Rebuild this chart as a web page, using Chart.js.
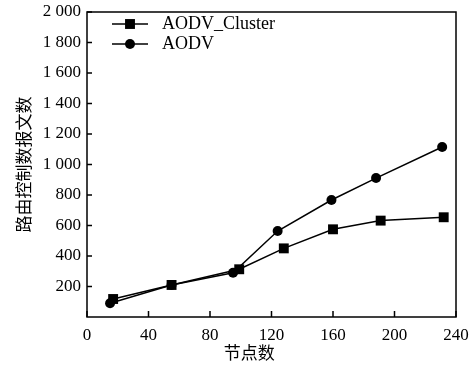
<!DOCTYPE html>
<html>
<head>
<meta charset="utf-8">
<script src="https://cdn.jsdelivr.net/npm/chart.js@4/dist/chart.umd.min.js"></script>
<style>
  html, body { margin: 0; padding: 0; background: #fff; }
</style>
</head>
<body>
<canvas id="chart" width="473" height="365"></canvas>
<script>
// data
const seriesNames = ["AODV_Cluster", "AODV"];
const clusterX = [17, 55, 99, 128, 160, 191, 232];
const clusterY = [118, 210, 313, 450, 575, 632, 654];
const aodvX = [15, 55, 95, 124, 159, 188, 231];
const aodvY = [90, 210, 290, 564, 767, 911, 1115];
const xTicks = [0, 40, 80, 120, 160, 200, 240];
const yTicks = [200, 400, 600, 800, 1000, 1200, 1400, 1600, 1800, 2000];
const xTitle = "节点数";
const yTitle = "路由控制数报文数";

const serif = "'Liberation Serif', 'DejaVu Serif', serif";
const cjk = "'Noto Sans CJK SC', sans-serif";

function toPoints(xs, ys) {
  return xs.map((x, i) => ({ x: x, y: ys[i] }));
}

function fmt(v) {
  if (v === 0) return "";
  const s = String(v);
  return v >= 1000 ? s.slice(0, s.length - 3) + " " + s.slice(-3) : s;
}

// box, inward ticks, legend inside the plot, x title
const decorations = {
  id: "decorations",
  beforeDatasetsDraw(chart) {
    const ctx = chart.ctx;
    const a = chart.chartArea;
    const xs = chart.scales.x;
    const ys = chart.scales.y;
    ctx.save();
    ctx.strokeStyle = "#000";
    ctx.lineWidth = 1.5;
    ctx.strokeRect(a.left, a.top, a.right - a.left, a.bottom - a.top);
    ctx.beginPath();
    xTicks.forEach((t) => {
      const px = xs.getPixelForValue(t);
      ctx.moveTo(px, a.bottom);
      ctx.lineTo(px, a.bottom - 6);
    });
    yTicks.forEach((t) => {
      const py = ys.getPixelForValue(t);
      ctx.moveTo(a.left, py);
      ctx.lineTo(a.left + 5, py);
    });
    ctx.stroke();
    ctx.restore();
  },
  afterDraw(chart) {
    const ctx = chart.ctx;
    const a = chart.chartArea;
    ctx.save();
    // legend
    chart.data.datasets.forEach((ds, i) => {
      const y = 24 + i * 20;
      ctx.strokeStyle = "#000";
      ctx.lineWidth = 1.5;
      ctx.beginPath();
      ctx.moveTo(112, y);
      ctx.lineTo(148, y);
      ctx.stroke();
      Chart.helpers.drawPoint(ctx, {
        pointStyle: ds.pointStyle,
        radius: ds.pointRadius,
        rotation: 0,
        borderWidth: 0
      }, 130, y);
      ctx.fillStyle = "#000";
      ctx.font = "18px " + serif;
      ctx.textAlign = "left";
      ctx.textBaseline = "middle";
      ctx.fillText(ds.label, 162, y);
    });
    // x title
    ctx.font = "17px " + cjk;
    ctx.textAlign = "center";
    ctx.textBaseline = "middle";
    ctx.fillText(xTitle, a.left + (a.right - a.left) * 0.44, 353);
    ctx.restore();
  }
};

const ctx = document.getElementById("chart").getContext("2d");
new Chart(ctx, {
  type: "scatter",
  data: {
    datasets: [
      {
        label: seriesNames[0],
        data: toPoints(clusterX, clusterY),
        showLine: true,
        borderColor: "#000",
        backgroundColor: "#000",
        borderWidth: 1.5,
        pointStyle: "rect",
        pointRadius: 7,
        pointBorderWidth: 0
      },
      {
        label: seriesNames[1],
        data: toPoints(aodvX, aodvY),
        showLine: true,
        borderColor: "#000",
        backgroundColor: "#000",
        borderWidth: 1.5,
        pointStyle: "circle",
        pointRadius: 5,
        pointBorderWidth: 0
      }
    ]
  },
  options: {
    responsive: false,
    animation: false,
    layout: { padding: { top: 12, right: 17, left: 0, bottom: 0 } },
    scales: {
      x: {
        type: "linear",
        min: 0,
        max: 240,
        afterBuildTicks: (s) => { s.ticks = xTicks.map((v) => ({ value: v })); },
        afterFit: (s) => { s.height = 48; s.paddingLeft = 0; s.paddingRight = 0; },
        grid: { display: false, drawTicks: false },
        border: { display: false },
        ticks: { color: "#000", padding: 8, font: { family: serif, size: 17 } }
      },
      y: {
        type: "linear",
        min: 0,
        max: 2000,
        afterBuildTicks: (s) => { s.ticks = [0].concat(yTicks).map((v) => ({ value: v })); },
        afterFit: (s) => { s.width = 87; s.paddingTop = 0; s.paddingBottom = 0; },
        grid: { display: false, drawTicks: false },
        border: { display: false },
        ticks: {
          color: "#000",
          padding: 6,
          font: { family: serif, size: 17 },
          callback: (v) => fmt(v)
        },
        title: {
          display: true,
          text: yTitle,
          color: "#000",
          padding: { top: 13, bottom: 0 },
          font: { family: cjk, size: 17 }
        }
      }
    },
    plugins: {
      legend: { display: false },
      tooltip: { enabled: false }
    }
  },
  plugins: [decorations]
});
</script>
</body>
</html>
